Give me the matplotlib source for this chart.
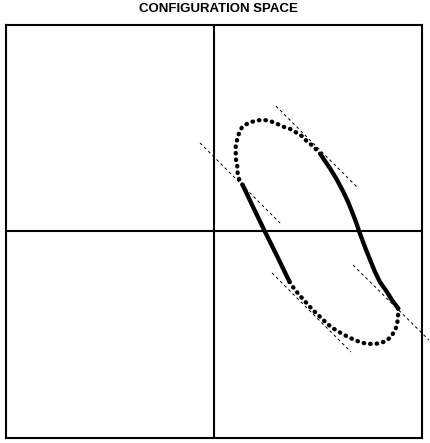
import matplotlib.pyplot as plt

# loop traced in configuration space (units: -100..100 on both axes)
top_arc_x = [14.0, 12.3, 11.6, 11.4, 10.8, 10.7, 10.7, 11.4, 12.3, 13.6, 16.0, 18.7,
             21.5, 24.8, 28.0, 31.2, 34.0, 36.8, 39.5, 42.4, 44.8, 47.5, 50.1, 51.5]
top_arc_y = [22.6, 25.5, 28.5, 31.8, 35.0, 38.3, 41.4, 44.8, 47.8, 50.4, 52.2, 53.3,
             54.0, 54.1, 53.3, 52.0, 50.7, 49.8, 48.2, 46.4, 43.9, 41.7, 39.1, 37.5]

right_x = [51.5, 53.6, 56.0, 59.4, 62.4, 64.7, 66.6, 68.5, 70.1, 71.9, 73.7, 75.7,
           77.6, 80.0, 83.3, 85.8, 88.8]
right_y = [37.5, 34.2, 30.7, 25.0, 19.3, 14.3, 9.6, 4.6, -0.1, -5.1, -9.8, -14.8,
           -19.5, -24.5, -29.2, -33.3, -37.3]

bottom_arc_x = [88.8, 88.8, 88.6, 88.1, 86.9, 85.3, 82.9, 79.7, 76.8, 73.7, 70.8, 68.0,
                65.1, 62.4, 59.5, 57.1, 54.4, 52.0, 49.9, 47.5, 45.6, 43.5, 41.6, 39.2,
                37.6, 36.5]
bottom_arc_y = [-37.3, -39.4, -42.6, -45.9, -48.6, -51.1, -53.2, -54.3, -54.6, -54.5,
                -53.8, -52.7, -51.4, -49.9, -48.3, -46.7, -44.6, -42.1, -40.2, -37.8,
                -35.7, -33.4, -31.2, -28.4, -26.0, -24.3]

left_x = [36.5, 30.7, 24.8, 19.3, 14.0]
left_y = [-24.3, -12.2, -0.2, 11.3, 22.6]

# tangent guide lines (slope -1)
guides = [
    ([-6.5, 32.0], [43.0, 4.1]),
    ([30.0, 69.0], [60.9, 21.6]),
    ([28.1, 66.1], [-20.1, -58.5]),
    ([67.1, 103.6], [-16.3, -52.7]),
]

fig = plt.figure(figsize=(4.3, 4.43), dpi=100)
ax = fig.add_axes([5.5 / 430, 5.5 / 443, 416 / 430, 412 / 443])
ax.set_xlim(-100, 100)
ax.set_ylim(-100, 100)
ax.set_xticks([])
ax.set_yticks([])
for s in ax.spines.values():
    s.set_linewidth(1.5)

ax.axhline(0, color='black', lw=1.5)
ax.axvline(0, color='black', lw=1.5)

dot_style = dict(color='black', lw=3.1, linestyle=(0, (0.12, 1.4)),
                 dash_capstyle='round')
ax.plot(top_arc_x, top_arc_y, **dot_style)
ax.plot(bottom_arc_x, bottom_arc_y, **dot_style)

ax.plot(right_x, right_y, color='black', lw=3.1, solid_capstyle='round',
        solid_joinstyle='round')
ax.plot(left_x, left_y, color='black', lw=3.1, solid_capstyle='round',
        solid_joinstyle='round')

for gx, gy in guides:
    ax.plot(gx, gy, color='black', lw=0.7, dashes=(3, 3), clip_on=False)

fig.text(218.5 / 430, 1 - 9.5 / 443, 'CONFIGURATION SPACE', ha='center', va='center',
         fontsize=9.5, fontweight='bold', family='Liberation Sans')

fig.savefig('out.png', dpi=100)
